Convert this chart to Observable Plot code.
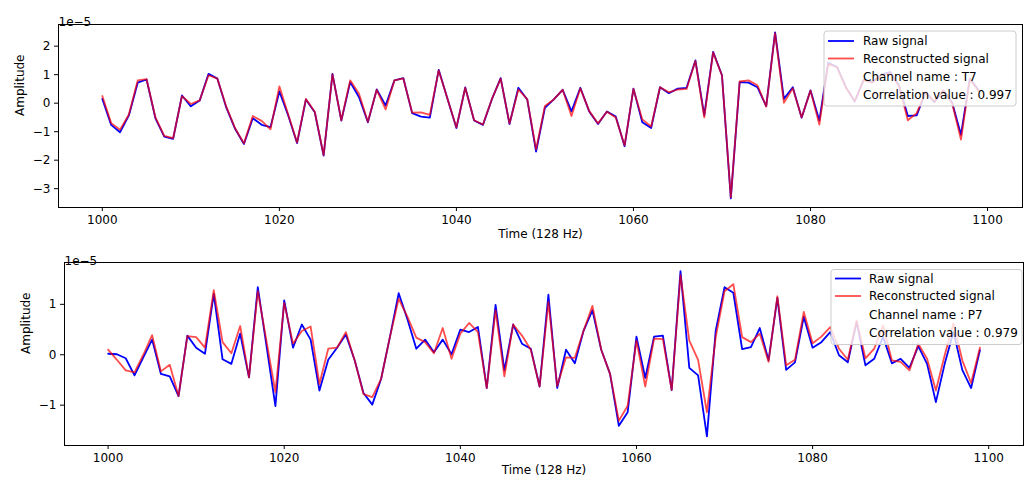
<!DOCTYPE html>
<html><head><meta charset="utf-8">
<script src="https://cdn.jsdelivr.net/npm/d3@7"></script>
<script src="https://cdn.jsdelivr.net/npm/@observablehq/plot@0.6"></script>
<style>body{margin:0;background:#fff} #chart svg{display:block}</style>
</head><body><div id="chart"></div>
<script>
// Sample index (128 Hz)
const time = d3.range(1000, 1100);
// Amplitudes in units of 1e-5
const rawT7 = [0.15,-0.76,-1.02,-0.43,0.72,0.83,-0.53,-1.17,-1.25,0.27,
  -0.11,0.09,1.03,0.86,-0.15,-0.90,-1.43,-0.53,-0.76,-0.84,
  0.41,-0.43,-1.40,0.13,-0.32,-1.84,1.03,-0.61,0.74,0.21,
  -0.67,0.48,-0.08,0.80,0.88,-0.35,-0.47,-0.51,1.17,0.15,
  -0.87,0.55,-0.61,-0.76,0.13,0.88,-0.73,0.54,0.13,-1.70,
  -0.16,0.13,0.47,-0.29,0.54,-0.29,-0.73,-0.29,-0.47,-1.51,
  0.51,-0.67,-0.87,0.56,0.35,0.51,0.54,1.50,-0.43,1.80,
  0.98,-3.34,0.74,0.72,0.56,-0.10,2.48,0.15,0.56,-0.51,
  0.45,-0.61,1.42,1.27,0.56,0.06,0.82,0.74,1.00,1.09,
  0.62,-0.45,-0.43,0.39,0.04,0.45,0.02,-1.11,0.86,0.45];
const recT7 = [0.25,-0.70,-0.93,-0.40,0.80,0.84,-0.50,-1.15,-1.23,0.25,
  -0.03,0.10,0.98,0.86,-0.12,-0.88,-1.41,-0.45,-0.62,-0.92,
  0.59,-0.40,-1.38,0.15,-0.30,-1.82,1.01,-0.60,0.80,0.33,
  -0.65,0.47,-0.22,0.80,0.87,-0.33,-0.32,-0.41,1.15,0.15,
  -0.85,0.54,-0.60,-0.75,0.14,0.86,-0.71,0.48,0.14,-1.62,
  -0.10,0.13,0.47,-0.45,0.52,-0.27,-0.71,-0.30,-0.50,-1.48,
  0.50,-0.57,-0.82,0.56,0.38,0.48,0.50,1.48,-0.50,1.78,
  0.97,-3.30,0.76,0.80,0.63,-0.12,2.45,0.01,0.52,-0.50,
  0.44,-0.75,1.38,1.25,0.55,0.08,0.80,0.72,0.98,1.05,
  0.60,-0.60,-0.35,0.38,0.05,0.44,0.00,-1.28,0.84,0.43];
const rawP7 = [0.02,0.01,-0.07,-0.41,-0.05,0.30,-0.38,-0.43,-0.82,0.38,
  0.14,0.02,1.21,-0.09,-0.18,0.42,-0.45,1.34,0.16,-1.02,
  1.08,0.14,0.60,0.30,-0.71,-0.10,0.14,0.40,-0.11,-0.76,
  -0.99,-0.48,0.35,1.22,0.70,0.12,0.30,0.05,0.30,0.01,
  0.50,0.45,0.55,-0.66,0.99,-0.31,0.60,0.22,0.12,-0.63,
  1.19,-0.66,0.10,-0.17,0.48,0.88,0.10,-0.38,-1.41,-1.14,
  0.36,-0.46,0.36,0.38,-0.70,1.66,-0.26,-0.41,-1.62,0.48,
  1.34,1.23,0.11,0.15,0.53,-0.11,1.13,-0.30,-0.15,0.75,
  0.14,0.25,0.45,-0.01,-0.15,0.65,-0.21,-0.08,0.36,-0.17,
  -0.08,-0.26,0.17,-0.18,-0.94,-0.18,0.45,-0.30,-0.66,0.09];
const recP7 = [0.10,-0.10,-0.31,-0.35,0.00,0.39,-0.33,-0.20,-0.82,0.37,
  0.35,0.14,1.28,0.25,0.03,0.57,-0.45,1.26,0.26,-0.74,
  1.03,0.22,0.47,0.56,-0.58,0.12,0.14,0.45,-0.11,-0.78,
  -0.84,-0.48,0.35,1.11,0.75,0.34,0.25,0.03,0.53,-0.08,
  0.42,0.63,0.45,-0.66,0.88,-0.43,0.60,0.38,0.10,-0.63,
  1.05,-0.62,-0.05,-0.06,0.48,0.97,0.10,-0.38,-1.31,-1.01,
  0.28,-0.63,0.32,0.31,-0.70,1.58,0.28,-0.10,-1.14,0.35,
  1.26,1.40,0.35,0.25,0.42,-0.14,1.16,-0.21,-0.10,0.85,
  0.23,0.36,0.55,0.12,-0.10,0.68,-0.07,0.12,0.58,-0.11,
  -0.14,-0.31,0.22,-0.08,-0.71,-0.01,0.62,-0.11,-0.56,0.14];

const xTicks = [1000, 1020, 1040, 1060, 1080, 1100];
const yTicksT7 = [-3, -2, -1, 0, 1, 2];
const yTicksP7 = [-1, 0, 1];
const seriesLabels = ["Raw signal", "Reconstructed signal"];
const channelNames = ["T7", "P7"];
const correlationValues = ["0.997", "0.979"];
const xLabel = "Time (128 Hz)";
const yLabel = "Amplitude";
const offsetLabel = "1e\u22125";

const FONT = "DejaVu Sans, sans-serif";

function panel(opt) {
  const rows = time.map((t, i) => ({t, raw: opt.raw[i], rec: opt.rec[i]}));
  const svg = Plot.plot({
    width: 1032,
    height: opt.height,
    marginTop: opt.mt, marginBottom: opt.mb, marginLeft: opt.ml, marginRight: opt.mr,
    style: {fontFamily: FONT, fontSize: "12px", background: "white", color: "black"},
    x: {domain: [995.05, 1103.95]},
    y: {domain: opt.yDomain},
    marks: [
      Plot.line(rows, {x: "t", y: "raw", stroke: "#0000ff", strokeWidth: 1.8}),
      Plot.line(rows, {x: "t", y: "rec", stroke: "#ff0000", strokeOpacity: 0.7, strokeWidth: 1.8}),
      Plot.frame({stroke: "black", strokeWidth: 1}),
      Plot.axisX({ticks: xTicks, tickSize: 4, tickPadding: 4, tickFormat: d3.format("d"), label: null}),
      Plot.axisY({ticks: opt.yTicks, tickSize: 4, tickPadding: 4, tickFormat: d3.format("d"), label: null}),
      Plot.text([xLabel], {text: d => d, frameAnchor: "bottom", dy: opt.xlDy}),
      Plot.text([yLabel], {text: d => d, frameAnchor: "left", dx: -38, rotate: -90}),
      Plot.text([offsetLabel], {text: d => d, frameAnchor: "top-left", textAnchor: "start", dy: opt.offDy})
    ]
  });
  // legend
  const L = opt.legend;
  const g = d3.select(svg).append("g").attr("font-family", FONT).attr("font-size", 12)
    .attr("text-anchor", "start");
  g.append("rect").attr("x", L.x).attr("y", L.y).attr("width", L.w).attr("height", L.h)
    .attr("rx", 3).attr("fill", "white").attr("fill-opacity", 0.8)
    .attr("stroke", "#cccccc").attr("stroke-width", 1);
  const lines = [
    {text: seriesLabels[0], color: "#0000ff", op: 1},
    {text: seriesLabels[1], color: "#ff0000", op: 0.7},
    {text: "Channel name : " + opt.channel},
    {text: "Correlation value : " + opt.corr}
  ];
  lines.forEach((d, i) => {
    const yy = L.rowY[i];
    if (d.color) {
      g.append("line").attr("x1", L.hx1).attr("x2", L.hx2).attr("y1", yy).attr("y2", yy)
        .attr("stroke", d.color).attr("stroke-opacity", d.op).attr("stroke-width", 1.8);
    }
    g.append("text").attr("x", L.tx).attr("y", yy).attr("dy", "0.35em")
      .attr("text-anchor", "start").attr("fill", "black").text(d.text);
  });
  return svg;
}

const chart = document.getElementById("chart");
chart.appendChild(panel({
  raw: rawT7, rec: recT7, yDomain: [-3.66, 2.76], yTicks: yTicksT7,
  height: 242, mt: 24, mb: 35, ml: 58, mr: 10, xlDy: 30, offDy: -7,
  channel: channelNames[0], corr: correlationValues[0],
  legend: {x: 824, y: 31, w: 192, h: 75, rowY: [41, 58.5, 77, 95], hx1: 828, hx2: 854, tx: 863}
}));
chart.appendChild(panel({
  raw: rawP7, rec: recP7, yDomain: [-1.80, 1.83], yTicks: yTicksP7,
  height: 243, mt: 20, mb: 40, ml: 64, mr: 9, xlDy: 28, offDy: -6,
  channel: channelNames[1], corr: correlationValues[1],
  legend: {x: 831, y: 27.5, w: 191, h: 75, rowY: [36.5, 54, 72.5, 91], hx1: 835, hx2: 861, tx: 869}
}));
</script>
</body></html>
